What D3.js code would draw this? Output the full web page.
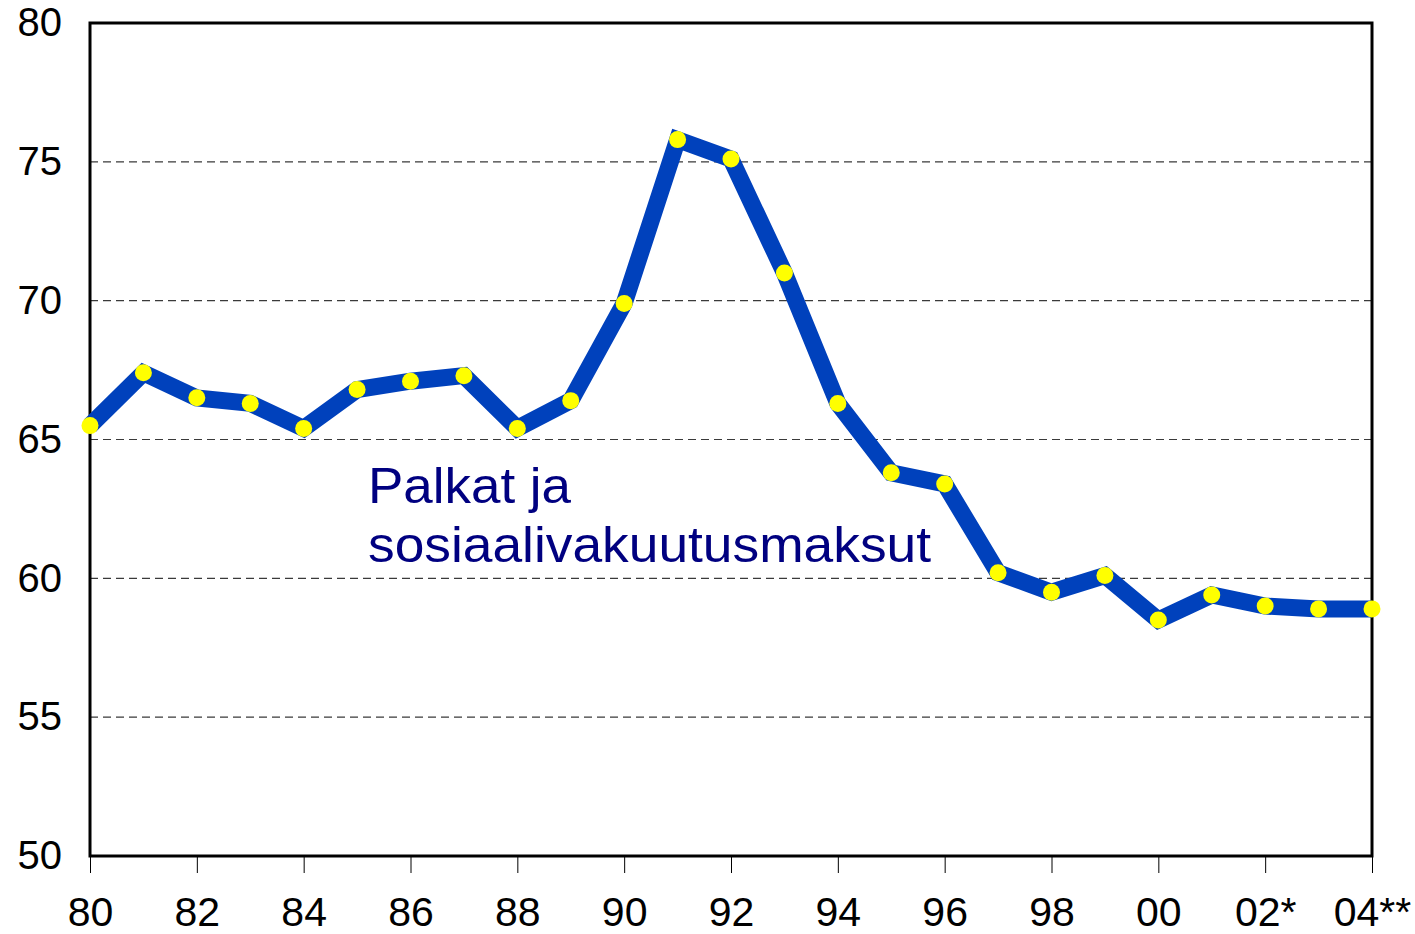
<!DOCTYPE html>
<html>
<head>
<meta charset="utf-8">
<script src="https://cdn.jsdelivr.net/npm/d3@7"></script>
<style>
  body { margin: 0; background: #fff; }
  text { font-family: 'Liberation Sans', Arial, sans-serif; }
</style>
</head>
<body>
<div id="canvas"></div>
<script>
/*
 * Data
 */
const years = ['80', '81', '82', '83', '84', '85', '86', '87', '88', '89',
  '90', '91', '92', '93', '94', '95', '96', '97', '98', '99',
  '00', '01', '02*', '03', '04**'];
const values = [65.5, 67.4, 66.5, 66.3, 65.4, 66.8, 67.1, 67.3, 65.4, 66.4,
  69.9, 75.8, 75.1, 71.0, 66.3, 63.8, 63.4, 60.2, 59.5, 60.1,
  58.5, 59.4, 59.0, 58.9, 58.9];
const xTickLabels = ['80', '82', '84', '86', '88', '90', '92', '94', '96', '98', '00', '02*', '04**'];
const yTicks = [50, 55, 60, 65, 70, 75, 80];
const seriesLabel = ['Palkat ja', 'sosiaalivakuutusmaksut'];

const margin = { top: 23, bottom: 78, left: 90, right: 43 };
const svgWidth = 1415,
  svgHeight = 934,
  width = svgWidth - margin.left - margin.right,
  height = svgHeight - margin.top - margin.bottom;

const svg = d3.select('#canvas').append('svg')
  .attr('width', svgWidth)
  .attr('height', svgHeight);

const g = svg.append('g')
  .attr('transform', `translate(${margin.left},${margin.top})`);

/*
 * Scales
 */
const xScale = d3.scalePoint()
  .domain(years)
  .range([0, width]);

const yScale = d3.scaleLinear()
  .domain([50, 80])
  .range([height, 0]);

// dashed grid lines
g.append('g')
  .selectAll('line')
  .data(yTicks.filter(d => d > 50 && d < 80))
  .enter()
  .append('line')
  .attr('x1', 0)
  .attr('x2', width)
  .attr('y1', d => yScale(d))
  .attr('y2', d => yScale(d))
  .attr('stroke', '#3a3a3a')
  .attr('stroke-width', 1.2)
  .attr('stroke-dasharray', '8,5');

// y axis labels
const leftAxis = g.append('g')
  .call(d3.axisLeft(yScale).tickValues(yTicks).tickSize(0).tickPadding(28));
leftAxis.select('.domain').remove();
leftAxis.selectAll('text')
  .attr('fill', '#000')
  .style('font-size', '40px');

// x axis ticks and labels
const bottomAxis = g.append('g')
  .attr('transform', `translate(0,${height})`)
  .call(d3.axisBottom(xScale).tickValues(xTickLabels).tickSize(17).tickPadding(24));
bottomAxis.select('.domain').remove();
bottomAxis.selectAll('line')
  .attr('stroke', '#000')
  .attr('stroke-width', 1);
bottomAxis.selectAll('text')
  .attr('fill', '#000')
  .style('font-size', '41px');

// frame
g.append('rect')
  .attr('x', 0)
  .attr('y', 0)
  .attr('width', width)
  .attr('height', height)
  .attr('fill', 'none')
  .attr('stroke', '#000')
  .attr('stroke-width', 3);

/*
 * The series
 */
const line = d3.line()
  .x((d, i) => xScale(years[i]))
  .y(d => yScale(d));

g.append('path')
  .datum(values)
  .attr('d', line)
  .attr('fill', 'none')
  .attr('stroke', '#0041BC')
  .attr('stroke-width', 17)
  .attr('stroke-linejoin', 'miter');

g.append('g')
  .selectAll('circle')
  .data(values)
  .enter()
  .append('circle')
  .attr('cx', (d, i) => xScale(years[i]))
  .attr('cy', d => yScale(d))
  .attr('r', 8.5)
  .attr('fill', '#FFFF00');

// series label
svg.append('g')
  .selectAll('text')
  .data(seriesLabel)
  .enter()
  .append('text')
  .attr('x', 368)
  .attr('y', (d, i) => 503 + i * 59)
  .attr('fill', '#000080')
  .style('font-size', '50px')
  .attr('textLength', (d, i) => i === 0 ? 203 : 563)
  .attr('lengthAdjust', 'spacingAndGlyphs')
  .text(d => d);
</script>
</body>
</html>
